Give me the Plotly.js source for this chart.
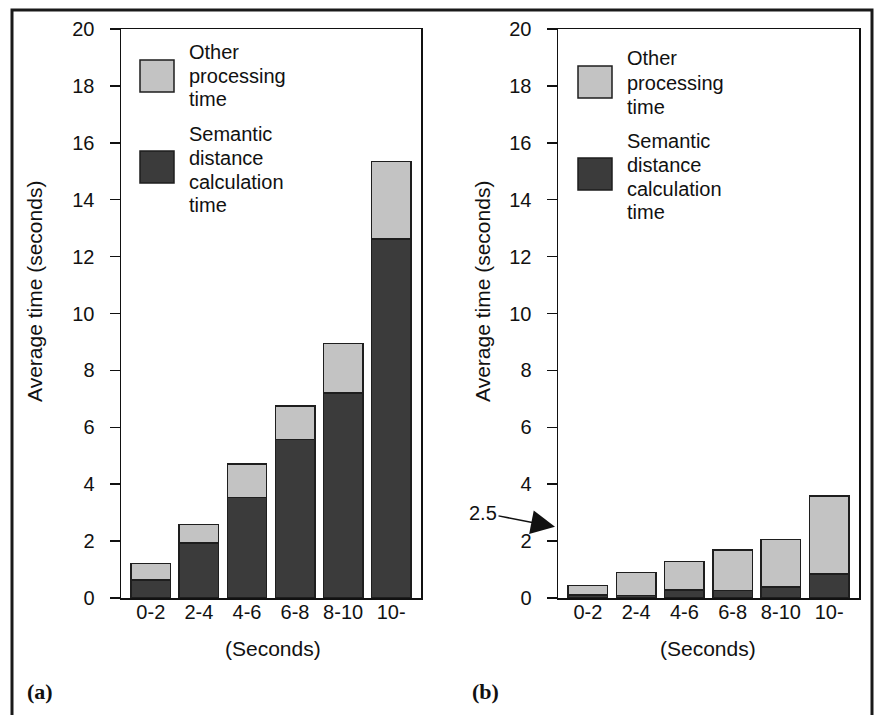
<!DOCTYPE html>
<html>
<head>
<meta charset="utf-8">
<script src="https://cdn.plot.ly/plotly-3.0.1.min.js"></script>
<style>html,body{margin:0;padding:0;background:#fff;}#chart{width:874px;height:715px;}</style>
</head>
<body>
<div id="chart"></div>
<script>
// ---- data ----
const categories = ["0-2", "2-4", "4-6", "6-8", "8-10", "10-"];
const semanticA = [0.63, 1.94, 3.54, 5.58, 7.20, 12.62];
const otherA    = [0.59, 0.64, 1.17, 1.17, 1.74, 2.72];
const semanticB = [0.10, 0.09, 0.28, 0.26, 0.39, 0.84];
const otherB    = [0.34, 0.80, 1.01, 1.43, 1.67, 2.74];
const yTicks = [0, 2, 4, 6, 8, 10, 12, 14, 16, 18, 20];
const seriesNames = ["Semantic distance calculation time", "Other processing time"];
const legendLinesOther = ["Other", "processing", "time"];
const legendLinesSem = ["Semantic", "distance", "calculation", "time"];
const panelLabels = ["(a)", "(b)"];
const yTitle = "Average time (seconds)";
const xTitle = "(Seconds)";
const arrowLabel = "2.5";
const arrowValue = 2.5;

// ---- style ----
const W = 874, H = 715;
const px = x => x / W;
const py = y => 1 - y / H;
const LIGHT = "#c3c3c3", DARK = "#3b3b3b", EDGE = "#1e1e1e";
const FONT = "Liberation Sans, Arial, Helvetica, sans-serif";
const barW = 0.82;

function bar(x, y, name, color, xa, ya) {
  return {
    type: "bar", x: x, y: y, name: name, xaxis: xa, yaxis: ya,
    width: barW, showlegend: false, hoverinfo: "x+y+name",
    marker: { color: color, line: { color: EDGE, width: 1.5 } }
  };
}

const data = [
  bar(categories, semanticA, seriesNames[0], DARK, "x", "y"),
  bar(categories, otherA, seriesNames[1], LIGHT, "x", "y"),
  bar(categories, semanticB, seriesNames[0], DARK, "x2", "y2"),
  bar(categories, otherB, seriesNames[1], LIGHT, "x2", "y2")
];

function xAxis(domain, anchor) {
  return {
    domain: domain, anchor: anchor, type: "category",
    range: [-0.62, 5.62], showgrid: false, zeroline: false,
    showline: true, mirror: true, linecolor: "#111", linewidth: 1.5,
    ticks: "", ticklabelstandoff: -5,
    tickfont: { family: FONT, size: 20, color: "#111" },
    fixedrange: true
  };
}
function yAxis(anchor) {
  return {
    domain: [py(598), py(29)], anchor: anchor,
    range: [0, 20], tickvals: yTicks, ticktext: yTicks.map(String),
    showgrid: false, zeroline: false,
    showline: true, mirror: true, linecolor: "#111", linewidth: 1.5,
    ticks: "outside", ticklen: 10, tickwidth: 1.5, tickcolor: "#111",
    ticklabelstandoff: 11,
    tickfont: { family: FONT, size: 20, color: "#111" },
    fixedrange: true
  };
}

const shapes = [];
const annotations = [];

// outer frame (open at bottom, extends past the image)
shapes.push({
  type: "path", xref: "paper", yref: "paper",
  path: `M ${px(12)} ${py(740)} L ${px(12)} ${py(10)} L ${px(872)} ${py(10)} L ${px(872)} ${py(740)}`,
  line: { color: "#1a1a1a", width: 3 }
});

function legend(bx, lightTop, darkTop, tx, otherYs, semYs) {
  shapes.push({ type: "rect", xref: "paper", yref: "paper",
    x0: px(bx), x1: px(bx + 34), y0: py(lightTop + 32), y1: py(lightTop),
    fillcolor: LIGHT, line: { color: EDGE, width: 1.5 } });
  shapes.push({ type: "rect", xref: "paper", yref: "paper",
    x0: px(bx), x1: px(bx + 34), y0: py(darkTop + 32), y1: py(darkTop),
    fillcolor: DARK, line: { color: EDGE, width: 1.5 } });
  legendLinesOther.forEach((t, i) => annotations.push({
    xref: "paper", yref: "paper", x: px(tx), y: py(otherYs[i]),
    xanchor: "left", yanchor: "middle", showarrow: false, text: t,
    font: { family: FONT, size: 20, color: "#111" } }));
  legendLinesSem.forEach((t, i) => annotations.push({
    xref: "paper", yref: "paper", x: px(tx), y: py(semYs[i]),
    xanchor: "left", yanchor: "middle", showarrow: false, text: t,
    font: { family: FONT, size: 20, color: "#111" } }));
}
legend(140, 60, 151, 187, [52, 76, 99], [134, 158, 182, 205]);
legend(578, 66, 158, 625, [58, 83, 107], [141, 165, 189, 212]);

// axis titles
[[34, 292], [482, 292]].forEach(p => annotations.push({
  xref: "paper", yref: "paper", x: px(p[0]), y: py(p[1]),
  xanchor: "center", yanchor: "middle", showarrow: false, textangle: -90,
  text: yTitle, font: { family: FONT, size: 21, color: "#111" } }));
[[273, 648], [708, 648]].forEach(p => annotations.push({
  xref: "paper", yref: "paper", x: px(p[0]), y: py(p[1]),
  xanchor: "center", yanchor: "middle", showarrow: false,
  text: xTitle, font: { family: FONT, size: 21, color: "#111" } }));

// panel labels
[[40, 691], [485, 691]].forEach((p, i) => annotations.push({
  xref: "paper", yref: "paper", x: px(p[0]), y: py(p[1]),
  xanchor: "center", yanchor: "middle", showarrow: false,
  text: "<b>" + panelLabels[i] + "</b>",
  font: { family: "Liberation Serif, Times New Roman, serif", size: 22, color: "#111" } }));

// arrow annotation
annotations.push({
  xref: "paper", yref: "y2", x: px(555), y: arrowValue,
  ax: -72, ay: -14, text: arrowLabel, showarrow: true,
  arrowhead: 2, arrowsize: 3.2, arrowwidth: 1.5, arrowcolor: "#111",
  font: { family: FONT, size: 20, color: "#111" }
});

const layout = {
  width: W, height: H,
  margin: { l: 0, r: 0, t: 0, b: 0 },
  paper_bgcolor: "#fff", plot_bgcolor: "#fff",
  barmode: "stack", showlegend: false,
  xaxis: xAxis([px(121), px(421)], "y"),
  yaxis: yAxis("x"),
  xaxis2: xAxis([px(558), px(859)], "y2"),
  yaxis2: yAxis("x2"),
  shapes: shapes, annotations: annotations,
  font: { family: FONT, color: "#111" }
};

Plotly.newPlot("chart", data, layout, { displayModeBar: false, staticPlot: true });
</script>
</body>
</html>
